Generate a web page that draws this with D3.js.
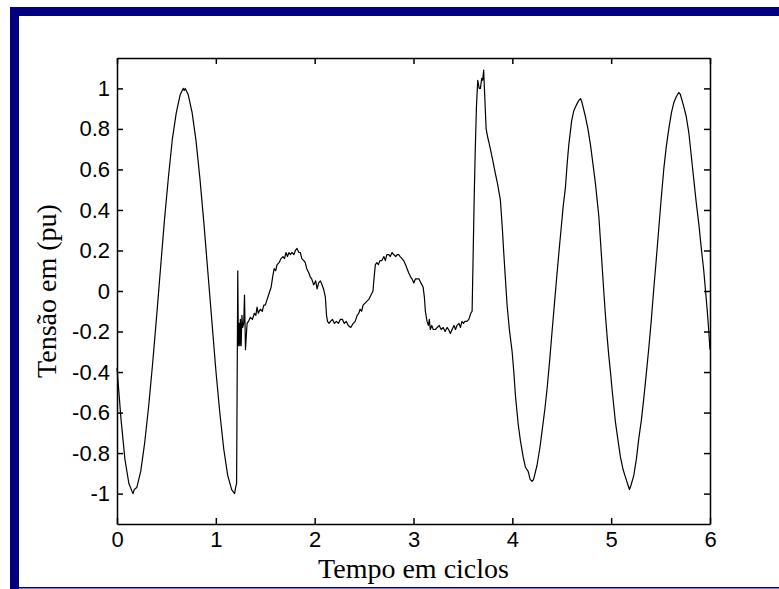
<!DOCTYPE html>
<html>
<head>
    <meta charset="utf-8">
    <title>Tensão em (pu)</title>
    <script src="https://d3js.org/d3.v7.min.js"></script>
    <style>
        body { margin: 0; background: #ffffff; }
        .tick text { font-family: "Liberation Sans", Arial, sans-serif; font-size: 22px; fill: #000; }
        .axis-title { font-family: "Liberation Serif", "Times New Roman", serif; font-size: 28px; fill: #000; }
    </style>
</head>
<body>
    <div id="chart"></div>
    <script>
        // time axis (cycles) and voltage (pu)
        var tCycles = [
            0.000, 0.040, 0.080, 0.120, 0.162, 0.175, 0.200, 0.240, 0.280, 0.320,
            0.360, 0.400, 0.440, 0.480, 0.520, 0.560, 0.600, 0.640, 0.670, 0.680,
            0.690, 0.720, 0.760, 0.800, 0.840, 0.880, 0.920, 0.960, 1.000, 1.040,
            1.080, 1.120, 1.160, 1.190, 1.200, 1.210,
            1.222, 1.228, 1.236, 1.242, 1.248, 1.256, 1.264, 1.272, 1.282, 1.290,
            1.300, 1.316, 1.330, 1.350, 1.370, 1.390, 1.405, 1.417, 1.430, 1.450,
            1.470, 1.485, 1.500, 1.520, 1.540, 1.560, 1.575, 1.590, 1.605, 1.620,
            1.640, 1.660, 1.680, 1.695, 1.710, 1.725, 1.740, 1.755, 1.770, 1.790,
            1.805, 1.822, 1.840, 1.855, 1.870, 1.890, 1.905, 1.920, 1.940, 1.955,
            1.970, 1.990, 2.010, 2.025, 2.040, 2.058, 2.075, 2.090, 2.108, 2.120,
            2.130, 2.145, 2.160, 2.180, 2.200, 2.220, 2.240, 2.260, 2.280, 2.300,
            2.320, 2.340, 2.365, 2.390, 2.410, 2.430, 2.446, 2.460, 2.475, 2.490,
            2.510, 2.530, 2.550, 2.570, 2.590, 2.600, 2.614, 2.630, 2.645, 2.660,
            2.680, 2.700, 2.715, 2.730, 2.750, 2.765, 2.783, 2.800, 2.820, 2.835,
            2.850, 2.865, 2.884, 2.900, 2.920, 2.935, 2.951, 2.970, 2.985, 3.003,
            3.020, 3.037, 3.055, 3.075, 3.097, 3.110, 3.120, 3.137, 3.150, 3.160,
            3.170, 3.185, 3.200, 3.222, 3.240, 3.260, 3.280, 3.300, 3.320, 3.340,
            3.355, 3.373, 3.390, 3.410, 3.425, 3.440, 3.460, 3.475, 3.490, 3.505,
            3.520, 3.540, 3.560, 3.580, 3.593,
            3.605, 3.615, 3.625, 3.637, 3.650, 3.665, 3.677, 3.690, 3.700, 3.710,
            3.720, 3.735, 3.750, 3.765, 3.778, 3.800, 3.828, 3.850, 3.879, 3.900,
            3.913, 3.930, 3.947, 3.970, 3.998, 4.015, 4.032, 4.060, 4.082, 4.110,
            4.133, 4.160, 4.180, 4.200, 4.215, 4.250, 4.280, 4.301, 4.330, 4.352,
            4.380, 4.402, 4.430, 4.453, 4.475, 4.494, 4.515, 4.537, 4.555, 4.571,
            4.600, 4.622, 4.650, 4.672, 4.690, 4.705, 4.740, 4.765, 4.791, 4.815,
            4.841, 4.860, 4.875, 4.890, 4.909, 4.925, 4.942, 4.960, 4.976, 4.995,
            5.010, 5.027, 5.044, 5.070, 5.094, 5.120, 5.145, 5.165, 5.185, 5.200,
            5.229, 5.255, 5.279, 5.305, 5.330, 5.355, 5.381, 5.405, 5.431, 5.457,
            5.482, 5.507, 5.532, 5.557, 5.583, 5.610, 5.634, 5.660, 5.684, 5.700,
            5.735, 5.760, 5.786, 5.810, 5.836, 5.860, 5.887, 5.910, 5.937, 5.955,
            5.971, 5.985, 6.000
        ];
        var voltagePu = [
            -0.38, -0.63, -0.83, -0.95, -1.00, -0.98, -0.97, -0.89, -0.75, -0.57,
            -0.36, -0.13, 0.11, 0.35, 0.56, 0.75, 0.88, 0.97, 1.00, 0.99,
            1.00, 0.97, 0.88, 0.74, 0.55, 0.33, 0.09, -0.15, -0.39, -0.60,
            -0.78, -0.91, -0.98, -1.00, -0.97, -0.95,
            0.10, -0.27, -0.16, -0.27, -0.14, -0.27, -0.12, -0.18, -0.16, -0.02,
            -0.29, -0.16, -0.15, -0.13, -0.14, -0.11, -0.12, -0.08, -0.11, -0.09,
            -0.10, -0.07, -0.07, -0.04, -0.01, 0.02, 0.07, 0.11, 0.10, 0.13,
            0.14, 0.16, 0.17, 0.16, 0.19, 0.17, 0.19, 0.18, 0.19, 0.18,
            0.20, 0.21, 0.19, 0.19, 0.16, 0.15, 0.14, 0.11, 0.09, 0.07,
            0.06, 0.03, 0.05, 0.01, 0.04, 0.05, 0.03, 0.01, -0.03, -0.12,
            -0.15, -0.16, -0.15, -0.14, -0.16, -0.15, -0.16, -0.14, -0.14, -0.16,
            -0.15, -0.17, -0.18, -0.16, -0.15, -0.12, -0.11, -0.09, -0.10, -0.07,
            -0.06, -0.05, -0.04, -0.02, 0.00, 0.06, 0.13, 0.14, 0.13, 0.15,
            0.15, 0.17, 0.15, 0.18, 0.18, 0.17, 0.19, 0.18, 0.17, 0.18,
            0.18, 0.17, 0.16, 0.15, 0.13, 0.11, 0.09, 0.07, 0.06, 0.04,
            0.06, 0.06, 0.06, 0.04, 0.02, -0.03, -0.10, -0.15, -0.17, -0.14,
            -0.19, -0.17, -0.19, -0.19, -0.18, -0.17, -0.19, -0.18, -0.20, -0.18,
            -0.19, -0.21, -0.19, -0.17, -0.19, -0.17, -0.16, -0.18, -0.15, -0.16,
            -0.15, -0.15, -0.14, -0.11, -0.10,
            0.22, 0.48, 0.70, 0.91, 1.04, 1.00, 1.00, 1.05, 1.04, 1.09,
            0.97, 0.80, 0.76, 0.73, 0.70, 0.65, 0.58, 0.53, 0.45, 0.30,
            0.19, 0.06, -0.07, -0.19, -0.30, -0.40, -0.52, -0.66, -0.74, -0.82,
            -0.87, -0.89, -0.93, -0.94, -0.93, -0.86, -0.77, -0.69, -0.58, -0.48,
            -0.33, -0.20, -0.04, 0.09, 0.21, 0.31, 0.42, 0.51, 0.63, 0.72,
            0.84, 0.89, 0.92, 0.94, 0.95, 0.93, 0.86, 0.80, 0.72, 0.63,
            0.53, 0.44, 0.37, 0.26, 0.12, 0.00, -0.12, -0.23, -0.32, -0.41,
            -0.49, -0.57, -0.65, -0.74, -0.82, -0.88, -0.92, -0.95, -0.98, -0.96,
            -0.91, -0.83, -0.73, -0.64, -0.53, -0.41, -0.28, -0.15, 0.01, 0.16,
            0.31, 0.46, 0.60, 0.71, 0.80, 0.88, 0.93, 0.96, 0.98, 0.97,
            0.91, 0.86, 0.78, 0.67, 0.55, 0.44, 0.33, 0.22, 0.10, 0.00,
            -0.09, -0.18, -0.29
        ];
        var xTicks = [0, 1, 2, 3, 4, 5, 6];
        var xTickLabels = ["0", "1", "2", "3", "4", "5", "6"];
        var yTicks = [1, 0.8, 0.6, 0.4, 0.2, 0, -0.2, -0.4, -0.6, -0.8, -1];
        var yTickLabels = ["1", "0.8", "0.6", "0.4", "0.2", "0", "-0.2", "-0.4", "-0.6", "-0.8", "-1"];

        var W = 779, H = 589;
        const margin = { top: 58, left: 117 }, width = 593, height = 466;

        var root = d3.select("#chart").append("svg")
            .attr("width", W)
            .attr("height", H);

        // navy slide frame
        root.append("rect").attr("x", 10).attr("y", 7).attr("width", W - 10).attr("height", 9).attr("fill", "#000080");
        root.append("rect").attr("x", 10).attr("y", 7).attr("width", 9).attr("height", H - 7).attr("fill", "#000080");
        root.append("rect").attr("x", 19).attr("y", 587).attr("width", W - 19).attr("height", 1.5).attr("fill", "#000080");

        var svg = root.append("g")
            .attr("transform", `translate(${margin.left},${margin.top})`);

        const x = d3.scaleLinear().domain([0, 6]).range([0, width]);
        const y = d3.scaleLinear().domain([-1.15, 1.15]).range([height, 0]);

        // axes, ticks pointing inwards like matlab
        svg.append("g")
            .attr("transform", `translate(0, ${height})`)
            .call(d3.axisBottom(x).tickValues(xTicks).tickSizeInner(-6).tickSizeOuter(0).tickPadding(7)
                .tickFormat(function (d, i) { return xTickLabels[i]; }));
        svg.append("g")
            .call(d3.axisTop(x).tickValues(xTicks).tickSizeInner(-6).tickSizeOuter(0).tickFormat(""));
        svg.append("g")
            .call(d3.axisLeft(y).tickValues(yTicks).tickSizeInner(-6).tickSizeOuter(0).tickPadding(7)
                .tickFormat(function (d, i) { return yTickLabels[i]; }));
        svg.append("g")
            .attr("transform", `translate(${width}, 0)`)
            .call(d3.axisRight(y).tickValues(yTicks).tickSizeInner(-6).tickSizeOuter(0).tickFormat(""));

        svg.selectAll(".domain, .tick line")
            .attr("stroke", "#000")
            .attr("stroke-width", 1.5);

        // the waveform
        var line = d3.line()
            .x(function (d) { return x(d[0]); })
            .y(function (d) { return y(d[1]); });
        var points = tCycles.map(function (t, i) { return [t, voltagePu[i]]; });
        svg.append("path")
            .datum(points)
            .attr("fill", "none")
            .attr("stroke", "#000")
            .attr("stroke-width", 1.2)
            .attr("stroke-linejoin", "round")
            .attr("d", line);

        // axis titles
        svg.append("text")
            .attr("class", "axis-title")
            .attr("x", width / 2)
            .attr("y", height + 54)
            .style("text-anchor", "middle")
            .text("Tempo em ciclos");

        svg.append("text")
            .attr("class", "axis-title")
            .attr("transform", "rotate(-90)")
            .attr("x", -height / 2)
            .attr("y", -61)
            .style("text-anchor", "middle")
            .text("Tensão em (pu)");
    </script>
</body>
</html>
